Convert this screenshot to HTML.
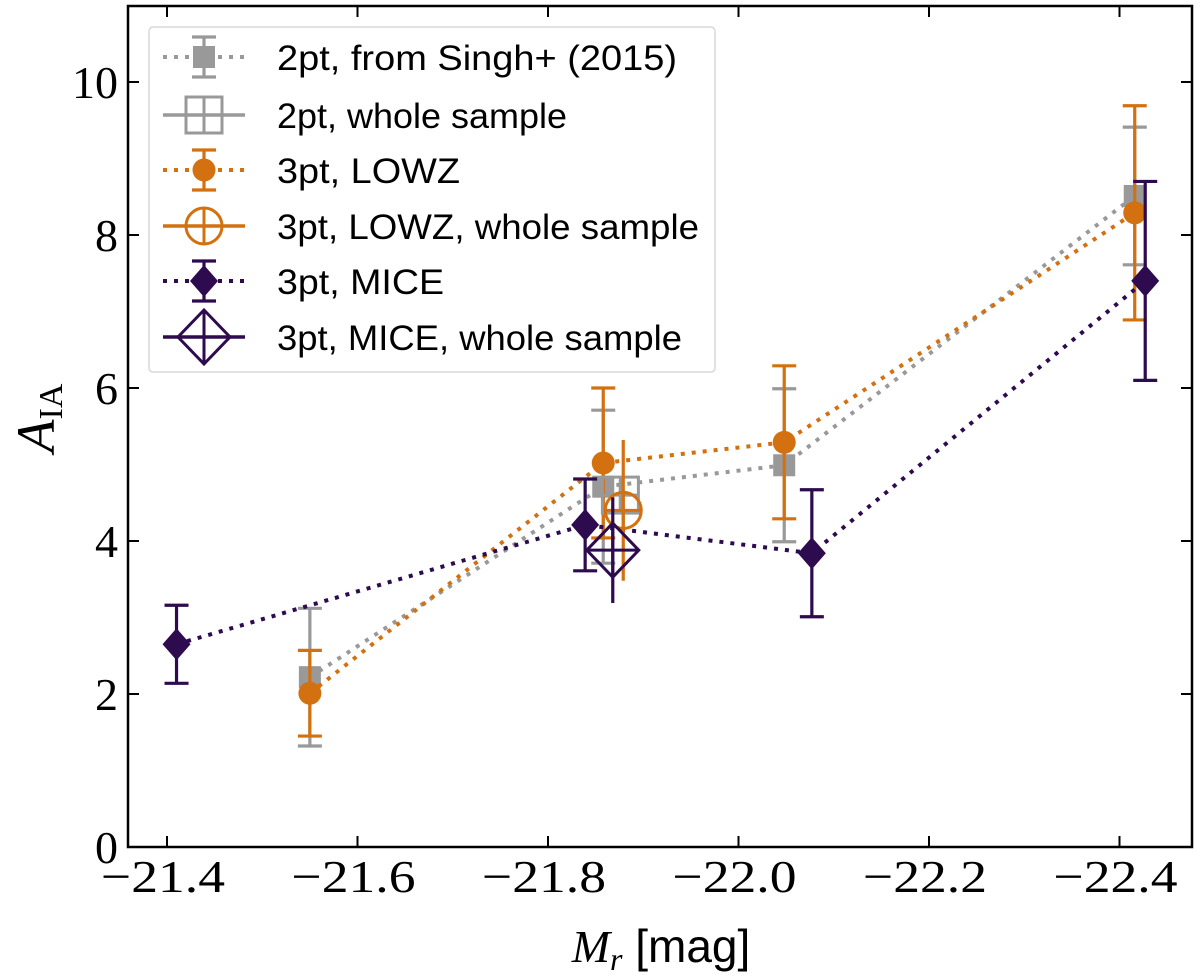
<!DOCTYPE html>
<html><head><meta charset="utf-8"><style>
html,body{margin:0;padding:0;background:#fff;}
svg{display:block;}
</style></head><body>
<svg id="chart" width="1200" height="978" xmlns="http://www.w3.org/2000/svg"></svg>
<script>
const xTicks = [-21.4, -21.6, -21.8, -22.0, -22.2, -22.4];
const xTickLabels = ["\u221221.4", "\u221221.6", "\u221221.8", "\u221222.0", "\u221222.2", "\u221222.4"];
const yTicks = [0, 2, 4, 6, 8, 10];
const yTickLabels = ["0", "2", "4", "6", "8", "10"];

const singhM = [-21.55, -21.858, -22.048, -22.416];
const singhA = [2.22, 4.71, 4.99, 8.51];
const singhErr = [0.9, 1.0, 1.0, 0.9];

const lowzM = [-21.55, -21.858, -22.048, -22.416];
const lowzA = [2.01, 5.02, 5.29, 8.29];
const lowzErr = [0.56, 0.98, 1.0, 1.4];

const miceM = [-21.41, -21.839, -22.077, -22.427];
const miceA = [2.65, 4.21, 3.84, 7.40];
const miceErr = [0.51, 0.6, 0.83, 1.3];

const wholeM = [-21.876, -21.879, -21.868];
const wholeA = [4.6, 4.40, 3.88];
const wholeErr = [0.2, 0.92, 0.69];

const GRAY = "#999999", ORANGE = "#d3700f", PURPLE = "#2e0a4f";
const L = 128, R = 1192, T = 6, B = 847;
function xs(m) { return 167 + (-21.4 - m) * 952.5; }
function ys(a) { return 847 - 76.5 * a; }

const svg = document.getElementById('chart');
const NS = "http://www.w3.org/2000/svg";
function mk(tag, attrs, parent) {
  const e = document.createElementNS(NS, tag);
  for (const k in attrs) e.setAttribute(k, attrs[k]);
  (parent || svg).appendChild(e);
  return e;
}

const frame = mk('rect', {x: L, y: T, width: R - L, height: B - T, fill: 'none', stroke: '#000', 'stroke-width': 2.5});



xTicks.forEach((v, i) => {
  const x = xs(v);
  const g = mk('g', {});
  
  
  mk('line', {x1: x, x2: x, y1: B, y2: B - 11, stroke: '#000', 'stroke-width': 2}, g);
  mk('line', {x1: x, x2: x, y1: T, y2: T + 11, stroke: '#000', 'stroke-width': 2}, g);
  const t = mk('text', {x: x - 4, y: 892, 'text-anchor': 'middle', 'font-family': 'Liberation Serif, serif', 'font-size': 46, textLength: 124, lengthAdjust: 'spacingAndGlyphs'}, g);
  t.textContent = xTickLabels[i];
});
yTicks.forEach((v, i) => {
  const y = ys(v);
  const g = mk('g', {});
  
  
  mk('line', {x1: L, x2: L + 11, y1: y, y2: y, stroke: '#000', 'stroke-width': 2}, g);
  mk('line', {x1: R, x2: R - 11, y1: y, y2: y, stroke: '#000', 'stroke-width': 2}, g);
  const t = mk('text', {x: 118, y: y + 16, 'text-anchor': 'end', 'font-family': 'Liberation Serif, serif', 'font-size': 46}, g);
  t.textContent = yTickLabels[i];
});

const xt = mk('text', {x: 661, y: 962, 'text-anchor': 'middle', 'font-size': 46});


xt.innerHTML = '<tspan font-family="Liberation Serif, serif" font-style="italic">M</tspan><tspan font-family="Liberation Serif, serif" font-style="italic" font-size="32" dy="8">r</tspan><tspan dy="-8" font-family="Liberation Sans, sans-serif"> [mag]</tspan>';
const yt = mk('text', {x: 0, y: 0, transform: 'translate(54,418) rotate(-90)', 'text-anchor': 'middle', 'font-size': 54});


yt.innerHTML = '<tspan font-family="Liberation Serif, serif" font-style="italic">A</tspan><tspan font-family="Liberation Serif, serif" font-size="34" dy="8">IA</tspan>';

function errbar(g, x, y1, y2, color, cap) {
  mk('line', {x1: x, x2: x, y1: y1, y2: y2, stroke: color, 'stroke-width': 3.2}, g);
  if (cap) {
    mk('line', {x1: x - 12, x2: x + 12, y1: y1, y2: y1, stroke: color, 'stroke-width': 3.2}, g);
    mk('line', {x1: x - 12, x2: x + 12, y1: y2, y2: y2, stroke: color, 'stroke-width': 3.2}, g);
  }
}
function marker(g, kind, x, y, color) {
  if (kind === 'square') mk('rect', {x: x - 11, y: y - 11, width: 22, height: 22, fill: color}, g);
  if (kind === 'circle') mk('circle', {cx: x, cy: y, r: 11.5, fill: color}, g);
  if (kind === 'diamond') mk('polygon', {points: `${x},${y-16} ${x+14},${y} ${x},${y+16} ${x-14},${y}`, fill: color}, g);
  if (kind === 'hsquare') {
    mk('rect', {x: x - 18, y: y - 18, width: 36, height: 36, fill: 'none', stroke: color, 'stroke-width': 3}, g);
    mk('line', {x1: x - 18, x2: x + 18, y1: y, y2: y, stroke: color, 'stroke-width': 3}, g);
    mk('line', {x1: x, x2: x, y1: y - 18, y2: y + 18, stroke: color, 'stroke-width': 3}, g);
  }
  if (kind === 'hcircle') {
    mk('circle', {cx: x, cy: y, r: 18, fill: 'none', stroke: color, 'stroke-width': 3}, g);
    mk('line', {x1: x - 18, x2: x + 18, y1: y, y2: y, stroke: color, 'stroke-width': 3}, g);
    mk('line', {x1: x, x2: x, y1: y - 18, y2: y + 18, stroke: color, 'stroke-width': 3}, g);
  }
  if (kind === 'hdiamond') {
    mk('polygon', {points: `${x},${y-27} ${x+26},${y} ${x},${y+27} ${x-26},${y}`, fill: 'none', stroke: color, 'stroke-width': 3}, g);
    mk('line', {x1: x - 26, x2: x + 26, y1: y, y2: y, stroke: color, 'stroke-width': 3}, g);
    mk('line', {x1: x, x2: x, y1: y - 27, y2: y + 27, stroke: color, 'stroke-width': 3}, g);
  }
}

function series(name, M, A, E, color, kind) {
  const g = mk('g', {});
  
  
  const pts = M.map((m, i) => xs(m) + ',' + ys(A[i])).join(' ');
  mk('polyline', {points: pts, fill: 'none', stroke: color, 'stroke-width': 4, 'stroke-dasharray': '4 7'}, g);
  M.forEach((m, i) => {
    errbar(g, xs(m), ys(A[i] + E[i]), ys(A[i] - E[i]), color, true);
    marker(g, kind, xs(m), ys(A[i]), color);
  });
}
series('singh-2pt-series', singhM, singhA, singhErr, GRAY, 'square');
series('lowz-3pt-series', lowzM, lowzA, lowzErr, ORANGE, 'circle');
series('mice-3pt-series', miceM, miceA, miceErr, PURPLE, 'diamond');

const wholeColors = [GRAY, ORANGE, PURPLE];
const wholeKinds = ['hsquare', 'hcircle', 'hdiamond'];
const wholeNames = ['whole-2pt-point', 'whole-lowz-point', 'whole-mice-point'];
wholeM.forEach((m, i) => {
  const g = mk('g', {});
  
  
  errbar(g, xs(m), ys(wholeA[i] + wholeErr[i]), ys(wholeA[i] - wholeErr[i]), wholeColors[i], false);
  marker(g, wholeKinds[i], xs(m), ys(wholeA[i]), wholeColors[i]);
});

const lg = mk('g', {});


mk('rect', {x: 149, y: 27, width: 566, height: 345, rx: 4, fill: 'rgba(255,255,255,0.85)', stroke: '#d8d8d8', 'stroke-width': 1.5}, lg);
const legRows = [
  ['2pt, from Singh+ (2015)', GRAY, 'square', true, 400],
  ['2pt, whole sample', GRAY, 'hsquare', false, 290],
  ['3pt, LOWZ', ORANGE, 'circle', true, 183],
  ['3pt, LOWZ, whole sample', ORANGE, 'hcircle', false, 422],
  ['3pt, MICE', PURPLE, 'diamond', true, 167],
  ['3pt, MICE, whole sample', PURPLE, 'hdiamond', false, 405]
];
const legY = [57, 115, 170, 226, 281, 337];
legRows.forEach((r, i) => {
  const g = mk('g', {}, lg);
  
  
  const y = legY[i], cx = 204;
  if (r[3]) {
    mk('line', {x1: 163, x2: 245, y1: y, y2: y, stroke: r[1], 'stroke-width': 4, 'stroke-dasharray': '4 7'}, g);
    errbar(g, cx, y - 20, y + 20, r[1], true);
  } else {
    mk('line', {x1: 163, x2: 245, y1: y, y2: y, stroke: r[1], 'stroke-width': 3.5}, g);
  }
  marker(g, r[2], cx, y, r[1]);
  const t = mk('text', {x: 277, y: y + 13, 'font-family': 'Liberation Sans, sans-serif', 'font-size': 35, textLength: r[4], lengthAdjust: 'spacingAndGlyphs'}, g);
  t.textContent = r[0];
});
</script>
</body></html>
